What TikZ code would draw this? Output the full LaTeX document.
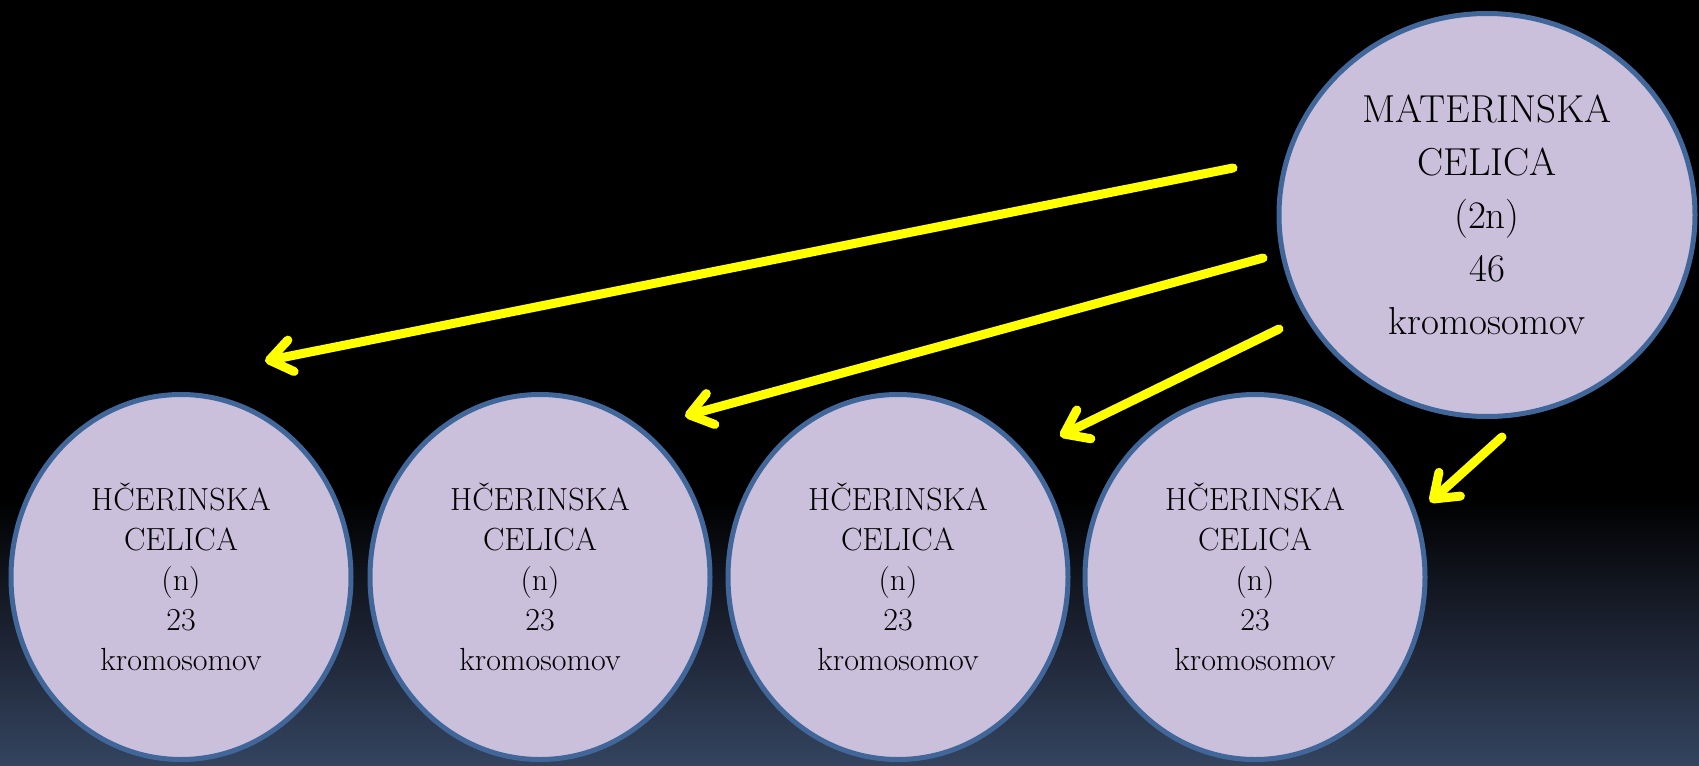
\documentclass[tikz,border=0pt]{standalone}
\usepackage{fontspec}
\usetikzlibrary{shapes.geometric,arrows.meta}
\definecolor{bgbot}{HTML}{34445F}
\definecolor{bgmid}{HTML}{1B2130}
\definecolor{cellfill}{HTML}{CBC0DB}
\definecolor{celldraw}{HTML}{41679A}
\definecolor{arrowyellow}{HTML}{FFFF00}
\pgfdeclareverticalshading{bgshade}{100bp}{color(0bp)=(bgbot); color(25bp)=(bgbot); color(34bp)=(bgmid); color(42.5bp)=(black); color(100bp)=(black)}
\tikzset{
  cell/.style={ellipse, fill=cellfill, draw=celldraw, line width=2.5pt, inner sep=0pt, align=center, text=black},
  mother/.style={cell, minimum width=208pt, minimum height=201.5pt, font=\fontsize{19.5}{26.5}\selectfont},
  daughter/.style={cell, minimum width=170pt, minimum height=182.5pt, font=\fontsize{16}{20}\selectfont},
  yarrow/.style={draw=arrowyellow, line width=4.5pt, line cap=round,
    -{Straight Barb[length=11pt, width=16pt, round]}}
}
\begin{document}
\begin{tikzpicture}[x=0.5pt, y=-0.5pt]
\useasboundingbox (0,0) rectangle (1699,766);
\shade[shading=bgshade] (0,0) rectangle (1699,766);

\node[mother] (big) at (1487,215) {MATERINSKA\\CELICA\\(2n)\\46\\kromosomov};

\node[daughter] (d1) at (181,577) {HČERINSKA\\CELICA\\(n)\\23\\kromosomov};
\node[daughter] (d2) at (540,577) {HČERINSKA\\CELICA\\(n)\\23\\kromosomov};
\node[daughter] (d3) at (898,577) {HČERINSKA\\CELICA\\(n)\\23\\kromosomov};
\node[daughter] (d4) at (1255,577) {HČERINSKA\\CELICA\\(n)\\23\\kromosomov};

\coordinate (s1) at (1233,168);
\coordinate (e1) at (265,361);
\coordinate (s2) at (1263,258);
\coordinate (e2) at (685,416);
\coordinate (s3) at (1279,329);
\coordinate (e3) at (1060,436);
\coordinate (s4) at (1502,437);
\coordinate (e4) at (1430,502);

\draw[yarrow] (s1) -- (e1);
\draw[yarrow] (s2) -- (e2);
\draw[yarrow] (s3) -- (e3);
\draw[yarrow] (s4) -- (e4);
\end{tikzpicture}
\end{document}
